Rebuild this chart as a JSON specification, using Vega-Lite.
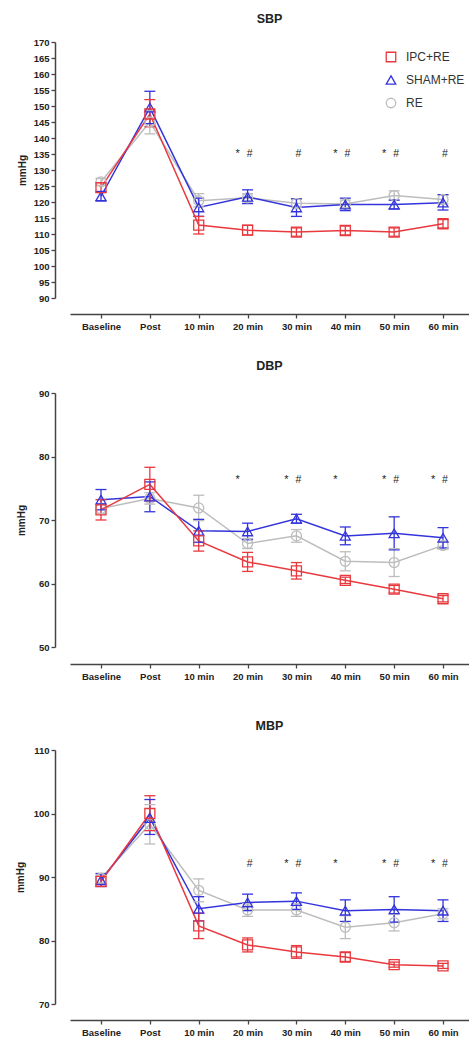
{
  "$schema": "https://vega.github.io/schema/vega-lite/v6.json",
  "padding": {"left": 15, "top": 12, "right": 0, "bottom": 0},
  "config": {
    "view": {"stroke": null},
    "font": "Liberation Sans",
    "axis": {"domainColor": "#444", "tickColor": "#444", "domainWidth": 1.5, "tickWidth": 1.3, "labelFont": "Liberation Sans", "labelFontWeight": "bold", "labelColor": "#222", "labelFontSize": 9.5, "titleFont": "Liberation Sans", "titleFontWeight": "bold", "titleFontSize": 10, "titleColor": "#222", "grid": false, "tickSize": 4, "labelOverlap": false},
    "title": {"font": "Liberation Sans", "fontSize": 12.5, "fontWeight": "bold", "color": "#222", "anchor": "middle"}
  },
  "datasets": {
    "sbp": [
      {"time": "Baseline", "group": "RE", "mean": 126.3, "lo": 125.2, "hi": 127.4},
      {"time": "Post", "group": "RE", "mean": 145, "lo": 141.3, "hi": 148.5},
      {"time": "10 min", "group": "RE", "mean": 120.4, "lo": 118.5, "hi": 122.6},
      {"time": "20 min", "group": "RE", "mean": 121.3, "lo": 120, "hi": 122.6},
      {"time": "30 min", "group": "RE", "mean": 119.6, "lo": 118.3, "hi": 121},
      {"time": "40 min", "group": "RE", "mean": 119.4, "lo": 118.2, "hi": 120.6},
      {"time": "50 min", "group": "RE", "mean": 122, "lo": 120.5, "hi": 123.5},
      {"time": "60 min", "group": "RE", "mean": 120.8, "lo": 119.4, "hi": 122.2},
      {"time": "Baseline", "group": "SHAM+RE", "mean": 121.8, "lo": 120.3, "hi": 123.3},
      {"time": "Post", "group": "SHAM+RE", "mean": 149.5, "lo": 144.5, "hi": 154.6},
      {"time": "10 min", "group": "SHAM+RE", "mean": 118.3, "lo": 115.5, "hi": 121.2},
      {"time": "20 min", "group": "SHAM+RE", "mean": 121.6, "lo": 119.5, "hi": 123.8},
      {"time": "30 min", "group": "SHAM+RE", "mean": 118.3, "lo": 115.5, "hi": 121},
      {"time": "40 min", "group": "SHAM+RE", "mean": 119.2, "lo": 117.3, "hi": 121.2},
      {"time": "50 min", "group": "SHAM+RE", "mean": 119.2, "lo": 117.8, "hi": 120.6},
      {"time": "60 min", "group": "SHAM+RE", "mean": 119.8, "lo": 117.5, "hi": 122.3},
      {"time": "Baseline", "group": "IPC+RE", "mean": 124.5, "lo": 123, "hi": 126},
      {"time": "Post", "group": "IPC+RE", "mean": 147.5, "lo": 143.5, "hi": 152},
      {"time": "10 min", "group": "IPC+RE", "mean": 112.8, "lo": 110, "hi": 115.5},
      {"time": "20 min", "group": "IPC+RE", "mean": 111.2, "lo": 109.7, "hi": 112.7},
      {"time": "30 min", "group": "IPC+RE", "mean": 110.6, "lo": 109.3, "hi": 111.9},
      {"time": "40 min", "group": "IPC+RE", "mean": 111.1, "lo": 109.7, "hi": 112.5},
      {"time": "50 min", "group": "IPC+RE", "mean": 110.6, "lo": 109.3, "hi": 111.9},
      {"time": "60 min", "group": "IPC+RE", "mean": 113.2, "lo": 111.9, "hi": 114.5}
    ],
    "dbp": [
      {"time": "Baseline", "group": "RE", "mean": 71.8, "lo": 71, "hi": 72.6},
      {"time": "Post", "group": "RE", "mean": 73.4, "lo": 72.5, "hi": 74.3},
      {"time": "10 min", "group": "RE", "mean": 71.9, "lo": 69.9, "hi": 73.9},
      {"time": "20 min", "group": "RE", "mean": 66.3, "lo": 65.5, "hi": 67.1},
      {"time": "30 min", "group": "RE", "mean": 67.5, "lo": 66.5, "hi": 68.5},
      {"time": "40 min", "group": "RE", "mean": 63.5, "lo": 62, "hi": 65},
      {"time": "50 min", "group": "RE", "mean": 63.3, "lo": 61.1, "hi": 65.5},
      {"time": "60 min", "group": "RE", "mean": 66.0, "lo": 65.4, "hi": 66.6},
      {"time": "Baseline", "group": "SHAM+RE", "mean": 73.2, "lo": 71.6, "hi": 74.8},
      {"time": "Post", "group": "SHAM+RE", "mean": 73.7, "lo": 71.3, "hi": 76},
      {"time": "10 min", "group": "SHAM+RE", "mean": 68.3, "lo": 66.5, "hi": 70.1},
      {"time": "20 min", "group": "SHAM+RE", "mean": 68.2, "lo": 66.9, "hi": 69.5},
      {"time": "30 min", "group": "SHAM+RE", "mean": 70.2, "lo": 69.5, "hi": 70.9},
      {"time": "40 min", "group": "SHAM+RE", "mean": 67.5, "lo": 66.1, "hi": 68.9},
      {"time": "50 min", "group": "SHAM+RE", "mean": 67.9, "lo": 65.3, "hi": 70.5},
      {"time": "60 min", "group": "SHAM+RE", "mean": 67.2, "lo": 65.6, "hi": 68.8},
      {"time": "Baseline", "group": "IPC+RE", "mean": 71.6, "lo": 70, "hi": 73.2},
      {"time": "Post", "group": "IPC+RE", "mean": 75.6, "lo": 73, "hi": 78.3},
      {"time": "10 min", "group": "IPC+RE", "mean": 66.7, "lo": 65.1, "hi": 68.3},
      {"time": "20 min", "group": "IPC+RE", "mean": 63.4, "lo": 61.9, "hi": 64.9},
      {"time": "30 min", "group": "IPC+RE", "mean": 62.0, "lo": 60.7, "hi": 63.3},
      {"time": "40 min", "group": "IPC+RE", "mean": 60.5, "lo": 60, "hi": 61},
      {"time": "50 min", "group": "IPC+RE", "mean": 59.1, "lo": 58.5, "hi": 59.7},
      {"time": "60 min", "group": "IPC+RE", "mean": 57.6, "lo": 57.1, "hi": 58.1}
    ],
    "mbp": [
      {"time": "Baseline", "group": "RE", "mean": 89.8, "lo": 89, "hi": 90.6},
      {"time": "Post", "group": "RE", "mean": 98.3, "lo": 95.2, "hi": 101.4},
      {"time": "10 min", "group": "RE", "mean": 87.9, "lo": 86.1, "hi": 89.7},
      {"time": "20 min", "group": "RE", "mean": 84.8, "lo": 83.8, "hi": 85.8},
      {"time": "30 min", "group": "RE", "mean": 84.8, "lo": 83.8, "hi": 85.8},
      {"time": "40 min", "group": "RE", "mean": 82.1, "lo": 80.3, "hi": 83.9},
      {"time": "50 min", "group": "RE", "mean": 82.8, "lo": 81.5, "hi": 84.1},
      {"time": "60 min", "group": "RE", "mean": 84.2, "lo": 83.4, "hi": 85},
      {"time": "Baseline", "group": "SHAM+RE", "mean": 89.5, "lo": 88.5, "hi": 90.5},
      {"time": "Post", "group": "SHAM+RE", "mean": 99.3, "lo": 96.7, "hi": 102.2},
      {"time": "10 min", "group": "SHAM+RE", "mean": 85.0, "lo": 83.1, "hi": 86.9},
      {"time": "20 min", "group": "SHAM+RE", "mean": 86.0, "lo": 84.7, "hi": 87.3},
      {"time": "30 min", "group": "SHAM+RE", "mean": 86.2, "lo": 84.9, "hi": 87.5},
      {"time": "40 min", "group": "SHAM+RE", "mean": 84.7, "lo": 83, "hi": 86.4},
      {"time": "50 min", "group": "SHAM+RE", "mean": 84.9, "lo": 82.9, "hi": 86.9},
      {"time": "60 min", "group": "SHAM+RE", "mean": 84.7, "lo": 83, "hi": 86.4},
      {"time": "Baseline", "group": "IPC+RE", "mean": 89.3, "lo": 88.5, "hi": 90.1},
      {"time": "Post", "group": "IPC+RE", "mean": 100, "lo": 97.3, "hi": 102.8},
      {"time": "10 min", "group": "IPC+RE", "mean": 82.3, "lo": 80.3, "hi": 84.3},
      {"time": "20 min", "group": "IPC+RE", "mean": 79.3, "lo": 78.2, "hi": 80.4},
      {"time": "30 min", "group": "IPC+RE", "mean": 78.2, "lo": 77.2, "hi": 79.2},
      {"time": "40 min", "group": "IPC+RE", "mean": 77.4, "lo": 76.7, "hi": 78.1},
      {"time": "50 min", "group": "IPC+RE", "mean": 76.2, "lo": 75.8, "hi": 76.6},
      {"time": "60 min", "group": "IPC+RE", "mean": 76.0, "lo": 75.6, "hi": 76.4}
    ],
    "ann": [
      {"panel": "SBP", "time": "20 min", "sym": "*", "y": 135},
      {"panel": "SBP", "time": "20 min", "sym": "#", "y": 135},
      {"panel": "SBP", "time": "30 min", "sym": "#", "y": 135},
      {"panel": "SBP", "time": "40 min", "sym": "*", "y": 135},
      {"panel": "SBP", "time": "40 min", "sym": "#", "y": 135},
      {"panel": "SBP", "time": "50 min", "sym": "*", "y": 135},
      {"panel": "SBP", "time": "50 min", "sym": "#", "y": 135},
      {"panel": "SBP", "time": "60 min", "sym": "#", "y": 135},
      {"panel": "DBP", "time": "20 min", "sym": "*", "y": 76.3},
      {"panel": "DBP", "time": "30 min", "sym": "*", "y": 76.3},
      {"panel": "DBP", "time": "30 min", "sym": "#", "y": 76.3},
      {"panel": "DBP", "time": "40 min", "sym": "*", "y": 76.3},
      {"panel": "DBP", "time": "50 min", "sym": "*", "y": 76.3},
      {"panel": "DBP", "time": "50 min", "sym": "#", "y": 76.3},
      {"panel": "DBP", "time": "60 min", "sym": "*", "y": 76.3},
      {"panel": "DBP", "time": "60 min", "sym": "#", "y": 76.3},
      {"panel": "MBP", "time": "20 min", "sym": "#", "y": 92},
      {"panel": "MBP", "time": "30 min", "sym": "*", "y": 92},
      {"panel": "MBP", "time": "30 min", "sym": "#", "y": 92},
      {"panel": "MBP", "time": "40 min", "sym": "*", "y": 92},
      {"panel": "MBP", "time": "50 min", "sym": "*", "y": 92},
      {"panel": "MBP", "time": "50 min", "sym": "#", "y": 92},
      {"panel": "MBP", "time": "60 min", "sym": "*", "y": 92},
      {"panel": "MBP", "time": "60 min", "sym": "#", "y": 92}
    ]
  },
  "resolve": {"legend": {"color": "independent", "shape": "independent"}},
  "spacing": 28,
  "vconcat": [
    {
      "width": 399, "height": 256,
      "title": {"text": "SBP", "offset": 12},
      "data": {"name": "sbp"},
      "encoding": {
        "x": {"field": "time", "type": "ordinal", "sort": ["Baseline", "Post", "10 min", "20 min", "30 min", "40 min", "50 min", "60 min"], "scale": {"type": "point", "padding": 0.583, "align": 0.544}, "axis": {"title": null, "offset": 16, "labelAngle": 0, "labelPadding": 3}},
        "color": {"field": "group", "type": "nominal", "scale": {"domain": ["IPC+RE", "SHAM+RE", "RE"], "range": ["#e8393f", "#3434dc", "#bdbdbd"]}, "legend": {"orient": "none", "legendX": 315, "legendY": 9, "title": null, "labelFontSize": 12, "labelColor": "#333", "labelFont": "Liberation Sans", "symbolSize": 90, "symbolStrokeWidth": 1.3, "rowPadding": 8, "labelOffset": 9}}
      },
      "layer": [
        {"mark": {"type": "line", "strokeWidth": 1.5}, "encoding": {"y": {"field": "mean", "type": "quantitative", "title": "mmHg", "scale": {"domain": [90, 170], "nice": false, "zero": false}, "axis": {"title": "mmHg", "offset": 15, "values": [90, 95, 100, 105, 110, 115, 120, 125, 130, 135, 140, 145, 150, 155, 160, 165, 170], "titlePadding": 6}}}},
        {"mark": {"type": "rule", "strokeWidth": 1.3}, "encoding": {"y": {"field": "lo", "type": "quantitative", "title": "mmHg", "axis": {"title": "mmHg", "offset": 15, "values": [90, 95, 100, 105, 110, 115, 120, 125, 130, 135, 140, 145, 150, 155, 160, 165, 170], "titlePadding": 6}}, "y2": {"field": "hi"}}},
        {"mark": {"type": "point", "shape": "M-1,0H1", "filled": false, "size": 121, "strokeWidth": 1.3, "opacity": 1}, "encoding": {"y": {"field": "lo", "type": "quantitative", "title": "mmHg", "axis": {"title": "mmHg", "offset": 15, "values": [90, 95, 100, 105, 110, 115, 120, 125, 130, 135, 140, 145, 150, 155, 160, 165, 170], "titlePadding": 6}}}},
        {"mark": {"type": "point", "shape": "M-1,0H1", "filled": false, "size": 121, "strokeWidth": 1.3, "opacity": 1}, "encoding": {"y": {"field": "hi", "type": "quantitative", "title": "mmHg", "axis": {"title": "mmHg", "offset": 15, "values": [90, 95, 100, 105, 110, 115, 120, 125, 130, 135, 140, 145, 150, 155, 160, 165, 170], "titlePadding": 6}}}},
        {"mark": {"type": "point", "filled": false, "size": 100, "strokeWidth": 1.3, "opacity": 1}, "encoding": {"y": {"field": "mean", "type": "quantitative", "title": "mmHg", "axis": {"title": "mmHg", "offset": 15, "values": [90, 95, 100, 105, 110, 115, 120, 125, 130, 135, 140, 145, 150, 155, 160, 165, 170], "titlePadding": 6}}, "shape": {"field": "group", "type": "nominal", "scale": {"domain": ["IPC+RE", "SHAM+RE", "RE"], "range": ["square", "triangle-up", "circle"]}, "legend": {"orient": "none", "legendX": 315, "legendY": 9, "title": null, "labelFontSize": 12, "labelColor": "#333", "labelFont": "Liberation Sans", "symbolSize": 90, "symbolStrokeWidth": 1.3, "rowPadding": 8, "labelOffset": 9}}}},
        {"data": {"name": "ann"}, "transform": [{"filter": "datum.panel == 'SBP' && datum.sym == '*'"}], "mark": {"type": "text", "dx": -10, "fontSize": 11, "font": "Liberation Sans"}, "encoding": {"y": {"field": "y", "type": "quantitative", "title": "mmHg", "axis": {"title": "mmHg", "offset": 15, "values": [90, 95, 100, 105, 110, 115, 120, 125, 130, 135, 140, 145, 150, 155, 160, 165, 170], "titlePadding": 6}}, "text": {"field": "sym"}, "color": {"value": "#222"}}},
        {"data": {"name": "ann"}, "transform": [{"filter": "datum.panel == 'SBP' && datum.sym == '#'"}], "mark": {"type": "text", "dx": 2, "fontSize": 10.5, "font": "Liberation Sans"}, "encoding": {"y": {"field": "y", "type": "quantitative", "title": "mmHg", "axis": {"title": "mmHg", "offset": 15, "values": [90, 95, 100, 105, 110, 115, 120, 125, 130, 135, 140, 145, 150, 155, 160, 165, 170], "titlePadding": 6}}, "text": {"field": "sym"}, "color": {"value": "#222"}}}
      ]
    },
    {
      "spacing": 38,
      "resolve": {"legend": {"color": "independent", "shape": "independent"}},
      "vconcat": [
        {
          "width": 399, "height": 254,
          "title": {"text": "DBP", "offset": 16},
          "data": {"name": "dbp"},
          "encoding": {
            "x": {"field": "time", "type": "ordinal", "sort": ["Baseline", "Post", "10 min", "20 min", "30 min", "40 min", "50 min", "60 min"], "scale": {"type": "point", "padding": 0.583, "align": 0.544}, "axis": {"title": null, "offset": 17, "labelAngle": 0, "labelPadding": 3}},
            "color": {"field": "group", "type": "nominal", "scale": {"domain": ["IPC+RE", "SHAM+RE", "RE"], "range": ["#e8393f", "#3434dc", "#bdbdbd"]}, "legend": null}
          },
          "layer": [
            {"mark": {"type": "line", "strokeWidth": 1.5}, "encoding": {"y": {"field": "mean", "type": "quantitative", "title": "mmHg", "scale": {"domain": [50, 90], "nice": false, "zero": false}, "axis": {"title": "mmHg", "offset": 15, "values": [50, 60, 70, 80, 90], "titlePadding": 12}}}},
            {"mark": {"type": "rule", "strokeWidth": 1.3}, "encoding": {"y": {"field": "lo", "type": "quantitative", "title": "mmHg", "axis": {"title": "mmHg", "offset": 15, "values": [50, 60, 70, 80, 90], "titlePadding": 12}}, "y2": {"field": "hi"}}},
            {"mark": {"type": "point", "shape": "M-1,0H1", "filled": false, "size": 121, "strokeWidth": 1.3, "opacity": 1}, "encoding": {"y": {"field": "lo", "type": "quantitative", "title": "mmHg", "axis": {"title": "mmHg", "offset": 15, "values": [50, 60, 70, 80, 90], "titlePadding": 12}}}},
            {"mark": {"type": "point", "shape": "M-1,0H1", "filled": false, "size": 121, "strokeWidth": 1.3, "opacity": 1}, "encoding": {"y": {"field": "hi", "type": "quantitative", "title": "mmHg", "axis": {"title": "mmHg", "offset": 15, "values": [50, 60, 70, 80, 90], "titlePadding": 12}}}},
            {"mark": {"type": "point", "filled": false, "size": 100, "strokeWidth": 1.3, "opacity": 1}, "encoding": {"y": {"field": "mean", "type": "quantitative", "title": "mmHg", "axis": {"title": "mmHg", "offset": 15, "values": [50, 60, 70, 80, 90], "titlePadding": 12}}, "shape": {"field": "group", "type": "nominal", "scale": {"domain": ["IPC+RE", "SHAM+RE", "RE"], "range": ["square", "triangle-up", "circle"]}, "legend": null}}},
            {"data": {"name": "ann"}, "transform": [{"filter": "datum.panel == 'DBP' && datum.sym == '*'"}], "mark": {"type": "text", "dx": -10, "fontSize": 11, "font": "Liberation Sans"}, "encoding": {"y": {"field": "y", "type": "quantitative", "title": "mmHg", "axis": {"title": "mmHg", "offset": 15, "values": [50, 60, 70, 80, 90], "titlePadding": 12}}, "text": {"field": "sym"}, "color": {"value": "#222"}}},
            {"data": {"name": "ann"}, "transform": [{"filter": "datum.panel == 'DBP' && datum.sym == '#'"}], "mark": {"type": "text", "dx": 2, "fontSize": 10.5, "font": "Liberation Sans"}, "encoding": {"y": {"field": "y", "type": "quantitative", "title": "mmHg", "axis": {"title": "mmHg", "offset": 15, "values": [50, 60, 70, 80, 90], "titlePadding": 12}}, "text": {"field": "sym"}, "color": {"value": "#222"}}}
          ]
        },
        {
          "width": 399, "height": 254,
          "title": {"text": "MBP", "offset": 13},
          "data": {"name": "mbp"},
          "encoding": {
            "x": {"field": "time", "type": "ordinal", "sort": ["Baseline", "Post", "10 min", "20 min", "30 min", "40 min", "50 min", "60 min"], "scale": {"type": "point", "padding": 0.583, "align": 0.544}, "axis": {"title": null, "offset": 16, "labelAngle": 0, "labelPadding": 3}},
            "color": {"field": "group", "type": "nominal", "scale": {"domain": ["IPC+RE", "SHAM+RE", "RE"], "range": ["#e8393f", "#3434dc", "#bdbdbd"]}, "legend": null}
          },
          "layer": [
            {"mark": {"type": "line", "strokeWidth": 1.5}, "encoding": {"y": {"field": "mean", "type": "quantitative", "title": "mmHg", "scale": {"domain": [70, 110], "nice": false, "zero": false}, "axis": {"title": "mmHg", "offset": 15, "values": [70, 80, 90, 100, 110], "titlePadding": 8}}}},
            {"mark": {"type": "rule", "strokeWidth": 1.3}, "encoding": {"y": {"field": "lo", "type": "quantitative", "title": "mmHg", "axis": {"title": "mmHg", "offset": 15, "values": [70, 80, 90, 100, 110], "titlePadding": 8}}, "y2": {"field": "hi"}}},
            {"mark": {"type": "point", "shape": "M-1,0H1", "filled": false, "size": 121, "strokeWidth": 1.3, "opacity": 1}, "encoding": {"y": {"field": "lo", "type": "quantitative", "title": "mmHg", "axis": {"title": "mmHg", "offset": 15, "values": [70, 80, 90, 100, 110], "titlePadding": 8}}}},
            {"mark": {"type": "point", "shape": "M-1,0H1", "filled": false, "size": 121, "strokeWidth": 1.3, "opacity": 1}, "encoding": {"y": {"field": "hi", "type": "quantitative", "title": "mmHg", "axis": {"title": "mmHg", "offset": 15, "values": [70, 80, 90, 100, 110], "titlePadding": 8}}}},
            {"mark": {"type": "point", "filled": false, "size": 100, "strokeWidth": 1.3, "opacity": 1}, "encoding": {"y": {"field": "mean", "type": "quantitative", "title": "mmHg", "axis": {"title": "mmHg", "offset": 15, "values": [70, 80, 90, 100, 110], "titlePadding": 8}}, "shape": {"field": "group", "type": "nominal", "scale": {"domain": ["IPC+RE", "SHAM+RE", "RE"], "range": ["square", "triangle-up", "circle"]}, "legend": null}}},
            {"data": {"name": "ann"}, "transform": [{"filter": "datum.panel == 'MBP' && datum.sym == '*'"}], "mark": {"type": "text", "dx": -10, "fontSize": 11, "font": "Liberation Sans"}, "encoding": {"y": {"field": "y", "type": "quantitative", "title": "mmHg", "axis": {"title": "mmHg", "offset": 15, "values": [70, 80, 90, 100, 110], "titlePadding": 8}}, "text": {"field": "sym"}, "color": {"value": "#222"}}},
            {"data": {"name": "ann"}, "transform": [{"filter": "datum.panel == 'MBP' && datum.sym == '#'"}], "mark": {"type": "text", "dx": 2, "fontSize": 10.5, "font": "Liberation Sans"}, "encoding": {"y": {"field": "y", "type": "quantitative", "title": "mmHg", "axis": {"title": "mmHg", "offset": 15, "values": [70, 80, 90, 100, 110], "titlePadding": 8}}, "text": {"field": "sym"}, "color": {"value": "#222"}}}
          ]
        }
      ]
    }
  ]
}
